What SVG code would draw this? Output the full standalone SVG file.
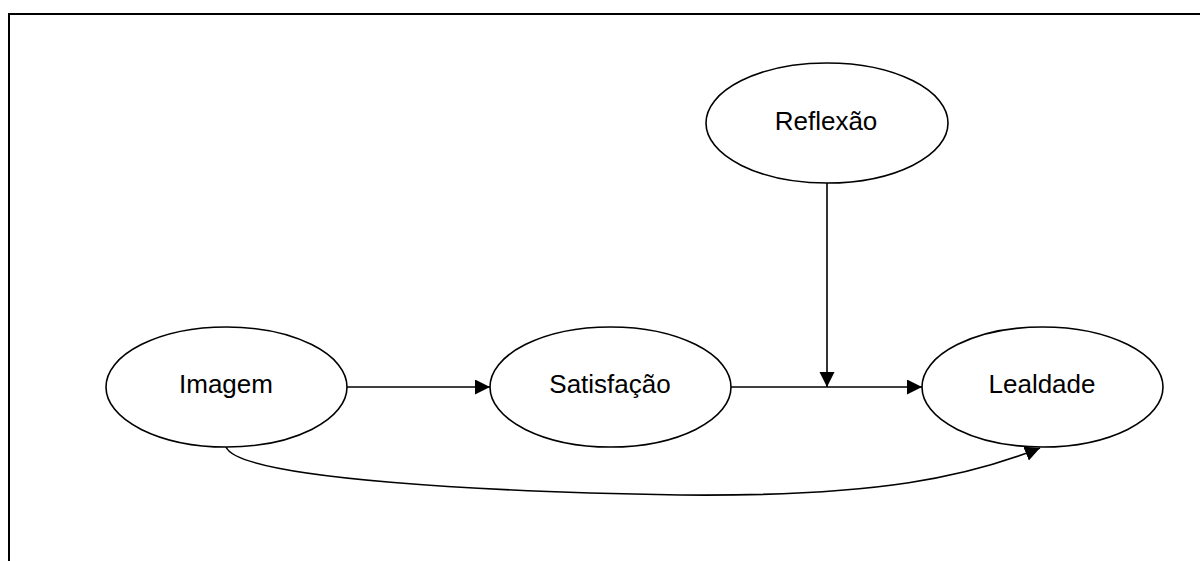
<svg xmlns="http://www.w3.org/2000/svg" width="1200" height="561" viewBox="0 0 1200 561">
  <style>
    .node ellipse { fill: #ffffff; stroke: #000000; stroke-width: 1.6; }
    .node text { font-family: "Liberation Sans", Arial, sans-serif; font-size: 26px; fill: #000000; text-anchor: middle; }
    .conn { fill: none; stroke: #000000; stroke-width: 1.6; }
  </style>
  <defs>
    <marker id="arrow" markerUnits="userSpaceOnUse" markerWidth="16" markerHeight="16" refX="15" refY="7.5" orient="auto">
      <path d="M0,0 L15,7.5 L0,15 Z" fill="#000000"/>
    </marker>
  </defs>
  <rect width="1200" height="561" fill="#ffffff"/>
  <path d="M9,561 L9,14 L1200,14" fill="none" stroke="#000000" stroke-width="2"/>
  <g id="connectors">
    <line class="conn" x1="347" y1="387" x2="490" y2="387" marker-end="url(#arrow)"/>
    <line class="conn" x1="731" y1="387" x2="922" y2="387" marker-end="url(#arrow)"/>
    <line class="conn" x1="827" y1="183" x2="827" y2="387" marker-end="url(#arrow)"/>
    <path class="conn" d="M226,447 C240,480 500,492 680,495 C880,497 970,476 1040,448" marker-end="url(#arrow)"/>
  </g>
  <g id="node-imagem" class="node">
    <ellipse cx="226.5" cy="387" rx="120.5" ry="60"/>
    <text x="226" y="393">Imagem</text>
  </g>
  <g id="node-satisfacao" class="node">
    <ellipse cx="610.5" cy="387" rx="120.5" ry="60"/>
    <text x="610" y="393">Satisfação</text>
  </g>
  <g id="node-lealdade" class="node">
    <ellipse cx="1042.5" cy="387" rx="120.5" ry="60"/>
    <text x="1042" y="393">Lealdade</text>
  </g>
  <g id="node-reflexao" class="node">
    <ellipse cx="827" cy="123" rx="121" ry="60"/>
    <text x="826" y="130">Reflexão</text>
  </g>
</svg>
